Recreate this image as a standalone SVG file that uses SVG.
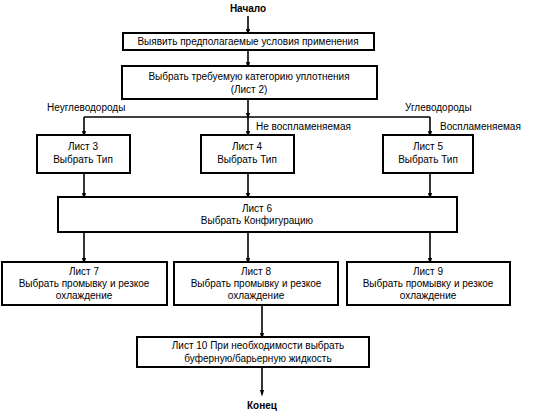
<svg xmlns="http://www.w3.org/2000/svg" width="535" height="411" viewBox="0 0 535 411">
<style>
.box{fill:#fff;stroke:#000;stroke-width:2}
.t{font-family:"Liberation Sans",Arial,sans-serif;font-size:10px;fill:#000;text-anchor:middle}
.tl{font-family:"Liberation Sans",Arial,sans-serif;font-size:10px;fill:#000}
.b{font-weight:bold}
.c{stroke:#000;stroke-width:1.6;fill:none}
</style>
<defs>
<marker id="ah" markerWidth="7" markerHeight="11" refX="7" refY="3.5" orient="auto" markerUnits="userSpaceOnUse" viewBox="0 0 11 7">
<path d="M0,0 L11,3.5 L0,7 Z" fill="#000"/>
</marker>
</defs>
<rect width="535" height="411" fill="#fff"/>
<g id="connectors">
<line class="c" x1="248" y1="16" x2="248" y2="33" marker-end="url(#ah)"/>
<line class="c" x1="248" y1="50" x2="248" y2="66" marker-end="url(#ah)"/>
<line class="c" x1="248" y1="99" x2="248" y2="117" marker-end="url(#ah)"/>
<line class="c" x1="84" y1="117" x2="430" y2="117"/>
<line class="c" x1="84" y1="117" x2="84" y2="135" marker-end="url(#ah)"/>
<line class="c" x1="248" y1="117" x2="248" y2="135" marker-end="url(#ah)"/>
<line class="c" x1="430" y1="117" x2="430" y2="135" marker-end="url(#ah)"/>
<line class="c" x1="84" y1="173" x2="84" y2="197" marker-end="url(#ah)"/>
<line class="c" x1="248" y1="173" x2="248" y2="197" marker-end="url(#ah)"/>
<line class="c" x1="430" y1="173" x2="430" y2="197" marker-end="url(#ah)"/>
<line class="c" x1="84" y1="232" x2="84" y2="262" marker-end="url(#ah)"/>
<line class="c" x1="248" y1="232" x2="248" y2="262" marker-end="url(#ah)"/>
<line class="c" x1="430" y1="232" x2="430" y2="262" marker-end="url(#ah)"/>
<line class="c" x1="262" y1="305" x2="262" y2="337" marker-end="url(#ah)"/>
<line class="c" x1="262" y1="367" x2="262" y2="394" marker-end="url(#ah)"/>
<text class="tl" x="47" y="111">Неуглеводороды</text>
<text class="tl" x="405" y="111">Углеводороды</text>
<text class="tl" x="256" y="130">Не воспламеняемая</text>
<text class="tl" x="440" y="130">Воспламеняемая</text>
</g>
<g id="start"><text class="t b" x="248" y="12">Начало</text></g>
<g id="n1"><rect class="box" x="123" y="33" width="251" height="17"/>
<text class="t" x="248" y="45">Выявить предполагаемые условия применения</text></g>
<g id="n2"><rect class="box" x="122" y="66" width="255" height="33"/>
<text class="t" x="249" y="80">Выбрать требуемую категорию уплотнения</text>
<text class="t" x="249" y="93">(Лист 2)</text></g>
<g id="n3"><rect class="box" x="37" y="135" width="93" height="38"/>
<text class="t" x="83" y="150">Лист 3</text><text class="t" x="83" y="163">Выбрать Тип</text></g>
<g id="n4"><rect class="box" x="201" y="135" width="93" height="38"/>
<text class="t" x="247" y="150">Лист 4</text><text class="t" x="247" y="163">Выбрать Тип</text></g>
<g id="n5"><rect class="box" x="383" y="135" width="90" height="38"/>
<text class="t" x="428" y="150">Лист 5</text><text class="t" x="428" y="163">Выбрать Тип</text></g>
<g id="n6"><rect class="box" x="58" y="197" width="399" height="35"/>
<text class="t" x="257" y="212">Лист 6</text><text class="t" x="257" y="224">Выбрать Конфигурацию</text></g>
<g id="n7"><rect class="box" x="2" y="262" width="165" height="43"/>
<text class="t" x="84" y="275">Лист 7</text><text class="t" x="84" y="287">Выбрать промывку и резкое</text><text class="t" x="84" y="299">охлаждение</text></g>
<g id="n8"><rect class="box" x="174" y="262" width="164" height="43"/>
<text class="t" x="256" y="275">Лист 8</text><text class="t" x="256" y="287">Выбрать промывку и резкое</text><text class="t" x="256" y="299">охлаждение</text></g>
<g id="n9"><rect class="box" x="347" y="262" width="163" height="43"/>
<text class="t" x="428" y="275">Лист 9</text><text class="t" x="428" y="287">Выбрать промывку и резкое</text><text class="t" x="428" y="299">охлаждение</text></g>
<g id="n10"><rect class="box" x="137" y="337" width="232" height="30"/>
<text class="t" x="258" y="349">Лист 10 При необходимости выбрать</text>
<text class="t" x="258" y="362">буферную/барьерную жидкость</text></g>
<g id="end"><text class="t b" x="262" y="409">Конец</text></g>
</svg>
